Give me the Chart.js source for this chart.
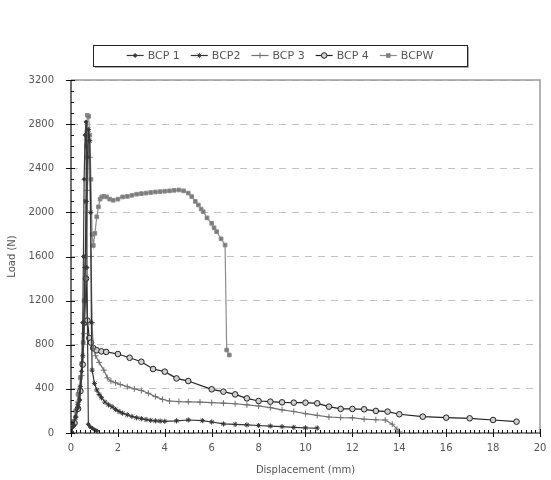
<!DOCTYPE html>
<html lang="en">
<head>
    <meta charset="UTF-8">
    <title>Load vs Displacement</title>
    <script src="https://cdn.jsdelivr.net/npm/chart.js"></script>
    <style>
        body { margin: 0; background: #fff; }
        .chart-container { position: relative; width: 551px; height: 480px; }
    </style>
</head>
<body>
    <div class="chart-container">
        <canvas id="loadChart"></canvas>
    </div>

    <script>
        const seriesNames = ["BCP 1", "BCP2", "BCP 3", "BCP 4", "BCPW"];

        const bcp1X = [0, 0.1, 0.2, 0.3, 0.38, 0.45, 0.5, 0.53, 0.56, 0.6, 0.64, 0.68, 0.74, 0.82, 0.9, 1.0, 1.1];
        const bcp1Y = [0, 80, 150, 230, 300, 560, 1000, 1600, 2300, 2700, 2820, 1500, 80, 55, 45, 30, 20];

        const bcp2X = [0, 0.1, 0.2, 0.3, 0.4, 0.5, 0.55, 0.6, 0.65, 0.7, 0.75, 0.8, 0.84, 0.87, 0.9, 1.0, 1.1, 1.2, 1.3, 1.45, 1.6, 1.75, 1.9, 2.05, 2.2, 2.4, 2.6, 2.8, 3.0, 3.2, 3.4, 3.6, 3.8, 4.0, 4.5, 5.0, 5.6, 6.0, 6.5, 7.0, 7.5, 8.0, 8.5, 9.0, 9.5, 10.0, 10.5];
        const bcp2Y = [0, 60, 140, 260, 420, 700, 1000, 1500, 2100, 2500, 2750, 2650, 2000, 1000, 570, 450, 390, 350, 320, 280, 255, 238, 215, 195, 180, 165, 150, 138, 130, 122, 115, 110, 108, 106, 110, 118, 112, 100, 82, 78, 73, 68, 63, 58, 51, 46, 45];

        const bcp3X = [0, 0.15, 0.3, 0.45, 0.55, 0.62, 0.7, 0.76, 0.8, 0.85, 0.9, 0.95, 1.05, 1.2, 1.4, 1.55, 1.7, 1.9, 2.1, 2.4, 2.7, 3.0, 3.3, 3.6, 3.9, 4.2, 4.6, 5.0, 5.5, 6.0, 6.5, 7.0, 7.5, 8.0, 8.5, 9.0, 9.5, 10.0, 10.5, 11.0, 11.5, 12.0, 12.5, 13.0, 13.4, 13.7, 13.9, 14.0];
        const bcp3Y = [0, 120, 280, 520, 900, 1500, 2200, 2650, 2500, 1600, 1000, 760, 700, 640, 570, 500, 470, 455, 440, 420, 400, 385, 360, 330, 305, 290, 285, 283, 280, 275, 270, 265, 255, 245, 230, 210, 195, 175, 160, 145, 140, 138, 125, 120, 118, 80, 35, 10];

        const bcp4X = [0, 0.15, 0.3, 0.4, 0.5, 0.58, 0.64, 0.7, 0.78, 0.85, 0.95, 1.1, 1.3, 1.5, 2.0, 2.5, 3.0, 3.5, 4.0, 4.5, 5.0, 6.0, 6.5, 7.0, 7.5, 8.0, 8.5, 9.0, 9.5, 10.0, 10.5, 11.0, 11.5, 12.0, 12.5, 13.0, 13.5, 14.0, 15.0, 16.0, 17.0, 18.0, 19.0];
        const bcp4Y = [0, 90, 220, 380, 620, 1000, 1400, 1020, 860, 820, 770, 750, 740, 735, 716, 682, 646, 580, 556, 495, 471, 396, 375, 350, 314, 290, 284, 278, 275, 275, 269, 239, 218, 218, 215, 200, 194, 170, 148, 139, 133, 118, 103];

        const bcpwX = [0, 0.1, 0.2, 0.3, 0.4, 0.46, 0.52, 0.56, 0.6, 0.63, 0.66, 0.7, 0.75, 0.8, 0.85, 0.9, 0.95, 1.02, 1.1, 1.17, 1.24, 1.31, 1.4, 1.52, 1.65, 1.8, 2.0, 2.2, 2.4, 2.6, 2.8, 3.0, 3.2, 3.4, 3.6, 3.8, 4.0, 4.2, 4.4, 4.6, 4.8, 5.0, 5.15, 5.3, 5.43, 5.55, 5.64, 5.8, 6.0, 6.1, 6.21, 6.4, 6.57, 6.64, 6.75];
        const bcpwY = [0, 100, 200, 350, 500, 630, 820, 1200, 1600, 2100, 2600, 2880, 2870, 2700, 2300, 1800, 1700, 1810, 1960, 2050, 2120, 2140, 2145, 2140, 2120, 2110, 2120, 2140, 2145, 2155, 2165, 2170, 2175, 2180, 2185, 2188, 2192, 2195, 2200, 2203, 2195, 2175, 2143, 2100, 2067, 2030, 2006, 1950, 1901, 1860, 1825, 1760, 1704, 752, 707];

        const yTicks = [0, 400, 800, 1200, 1600, 2000, 2400, 2800, 3200];
        const xTicks = [0, 2, 4, 6, 8, 10, 12, 14, 16, 18, 20];

        function toPoints(xs, ys) {
            return xs.map((x, i) => ({ x: x, y: ys[i] }));
        }

        const labelFont = { family: "'DejaVu Sans', sans-serif", size: 10 };
        const textColor = "#555";

        const styles = [
            { color: "#3a3a3a", fill: "#3a3a3a", point: "rectRot", r: 2 },
            { color: "#333", fill: "#333", point: "star", r: 2.6 },
            { color: "#707070", fill: "#707070", point: "cross", r: 3 },
            { color: "#222", fill: "#cfcfcf", point: "circle", r: 2.8 },
            { color: "#8c8c8c", fill: "#7a7a7a", point: "rect", r: 2.6 }
        ];
        const allData = [
            toPoints(bcp1X, bcp1Y),
            toPoints(bcp2X, bcp2Y),
            toPoints(bcp3X, bcp3Y),
            toPoints(bcp4X, bcp4Y),
            toPoints(bcpwX, bcpwY)
        ];

        // axes lines, minor ticks, frame and the boxed legend
        const decorPlugin = {
            id: "decor",
            beforeDatasetsDraw(chart) {
                const ctx = chart.ctx;
                const a = chart.chartArea;
                ctx.save();
                ctx.strokeStyle = "#999";
                ctx.lineWidth = 1.5;
                ctx.beginPath();
                ctx.moveTo(a.left, a.top);
                ctx.lineTo(a.right, a.top);
                ctx.lineTo(a.right, a.bottom);
                ctx.stroke();
                ctx.restore();
            },
            afterDraw(chart) {
                const ctx = chart.ctx;
                const a = chart.chartArea;
                const xs = chart.scales.x, ys = chart.scales.y;
                ctx.save();
                ctx.strokeStyle = "#111";
                ctx.lineWidth = 1.2;
                ctx.beginPath();
                ctx.moveTo(a.left, a.top);
                ctx.lineTo(a.left, a.bottom);
                ctx.lineTo(a.right, a.bottom);
                ctx.stroke();

                ctx.lineWidth = 1;
                ctx.beginPath();
                for (let v = 0; v <= 3200; v += 100) {
                    const py = Math.round(ys.getPixelForValue(v)) + 0.5;
                    const major = v % 400 === 0;
                    ctx.moveTo(a.left - (major ? 5 : 0), py);
                    ctx.lineTo(a.left + (major ? 4 : 3), py);
                }
                for (let v = 0; v <= 20.001; v += 0.2) {
                    const px = Math.round(xs.getPixelForValue(v)) + 0.5;
                    const major = Math.abs(v / 2 - Math.round(v / 2)) < 0.01;
                    ctx.moveTo(px, a.bottom + (major ? 4 : 0));
                    ctx.lineTo(px, a.bottom - (major ? 4 : 3));
                }
                ctx.stroke();

                // legend
                ctx.font = "11px 'DejaVu Sans', sans-serif";
                ctx.textBaseline = "middle";
                const lineLen = 17, gap = 4, itemGap = 11;
                let total = 0;
                seriesNames.forEach(n => total += lineLen + gap + ctx.measureText(n).width);
                total += itemGap * (seriesNames.length - 1);
                const boxL = 93, boxR = 467, boxT = 45, boxB = 66;
                let x = (boxL + boxR) / 2 - total / 2;
                const cy = (boxT + boxB) / 2;
                ctx.strokeStyle = "#222";
                ctx.lineWidth = 1;
                ctx.strokeRect(boxL + 0.5, boxT + 0.5, boxR - boxL, boxB - boxT);
                ctx.strokeStyle = "#aaa";
                ctx.beginPath();
                ctx.moveTo(boxL + 2, boxB + 1.5);
                ctx.lineTo(boxR + 1.5, boxB + 1.5);
                ctx.lineTo(boxR + 1.5, boxT + 2);
                ctx.stroke();
                seriesNames.forEach((n, i) => {
                    const s = styles[i];
                    ctx.strokeStyle = s.color;
                    ctx.fillStyle = s.fill;
                    ctx.lineWidth = 1.2;
                    ctx.beginPath();
                    ctx.moveTo(x, cy);
                    ctx.lineTo(x + lineLen, cy);
                    ctx.stroke();
                    ctx.lineWidth = 1;
                    Chart.helpers.drawPoint(ctx, {
                        pointStyle: s.point, radius: s.r, borderWidth: 1
                    }, x + lineLen / 2, cy);
                    x += lineLen + gap;
                    ctx.fillStyle = textColor;
                    ctx.fillText(n, x, cy + 0.5);
                    x += ctx.measureText(n).width + itemGap;
                });
                ctx.restore();
            }
        };

        const ctxChart = document.getElementById("loadChart").getContext("2d");
        new Chart(ctxChart, {
            type: "scatter",
            data: {
                datasets: seriesNames.map((n, i) => ({
                    label: n,
                    data: allData[i],
                    showLine: true,
                    borderColor: styles[i].color,
                    backgroundColor: styles[i].fill,
                    borderWidth: 1.2,
                    pointStyle: styles[i].point,
                    pointRadius: styles[i].r,
                    pointBorderColor: styles[i].color,
                    pointBackgroundColor: styles[i].fill,
                    pointBorderWidth: 1
                }))
            },
            options: {
                responsive: true,
                maintainAspectRatio: false,
                animation: false,
                layout: { padding: { top: 80, right: 11, left: 0, bottom: 0 } },
                plugins: {
                    legend: { display: false },
                    tooltip: { enabled: false }
                },
                scales: {
                    x: {
                        type: "linear",
                        min: 0, max: 20,
                        afterBuildTicks: s => { s.ticks = xTicks.map(v => ({ value: v })); },
                        afterFit: s => { s.height = 47; s.paddingLeft = 0; s.paddingRight = 0; },
                        ticks: { font: labelFont, color: textColor, padding: 9, callback: v => String(v) },
                        grid: { display: false, drawTicks: false },
                        border: { display: false },
                        title: { display: true, text: "Displacement (mm)", font: labelFont, color: textColor, padding: { top: 2, bottom: 4 } }
                    },
                    y: {
                        type: "linear",
                        min: 0, max: 3200,
                        afterBuildTicks: s => { s.ticks = yTicks.map(v => ({ value: v })); },
                        afterFit: s => { s.width = 71; s.paddingTop = 0; s.paddingBottom = 0; },
                        ticks: { font: labelFont, color: textColor, padding: 17, callback: v => String(v) },
                        grid: { drawTicks: false, color: "#c4c4c4", lineWidth: 1 },
                        border: { display: false, dash: [7, 6] },
                        title: { display: true, text: "Load (N)", font: labelFont, color: textColor, padding: { top: 6, bottom: 4 } }
                    }
                }
            },
            plugins: [decorPlugin]
        });
    </script>
</body>
</html>
